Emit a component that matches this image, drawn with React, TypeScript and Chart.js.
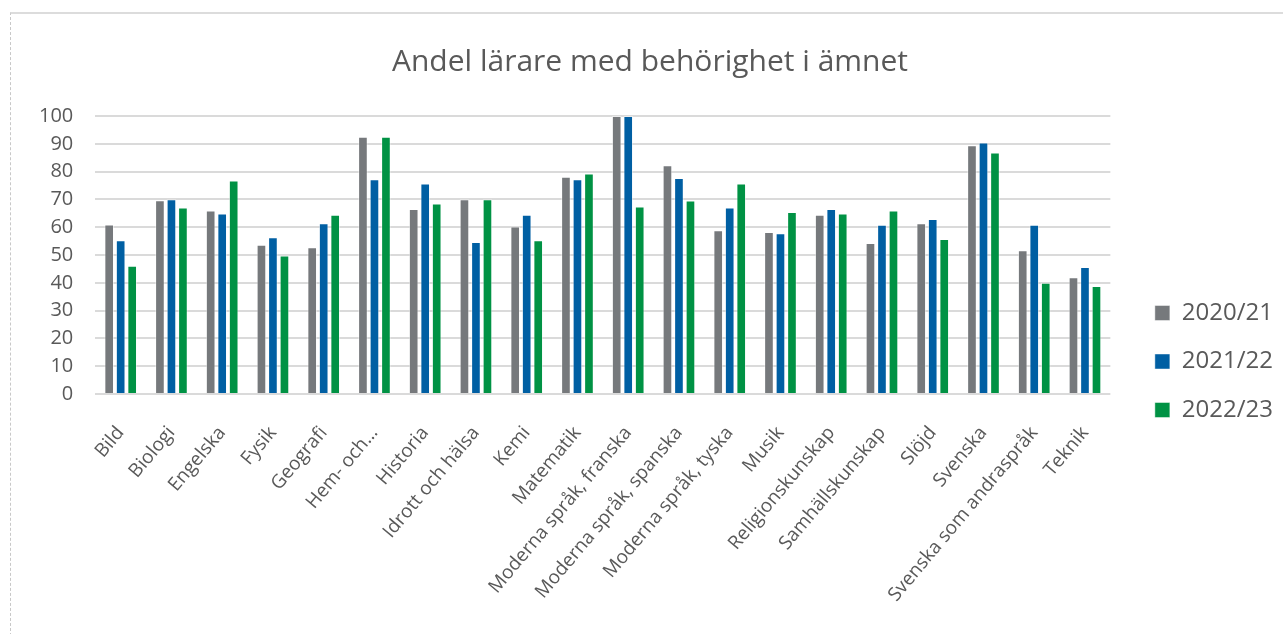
import React, { useEffect, useRef } from "react";
import { Chart, registerables } from "chart.js";

Chart.register(...registerables);

const categories = [
  "Bild", "Biologi", "Engelska", "Fysik", "Geografi", "Hem- och…", "Historia",
  "Idrott och hälsa", "Kemi", "Matematik", "Moderna språk, franska",
  "Moderna språk, spanska", "Moderna språk, tyska", "Musik", "Religionskunskap",
  "Samhällskunskap", "Slöjd", "Svenska", "Svenska som andraspråk", "Teknik",
];

const series2020 = [61, 69.7, 66, 53.7, 52.8, 92.5, 66.6, 70.1, 60.3, 78.2, 100, 82.3, 58.9, 58.3, 64.5, 54.3, 61.4, 89.5, 51.7, 42];
const series2021 = [55.3, 70.1, 64.9, 56.4, 61.4, 77.3, 75.7, 54.7, 64.5, 77.3, 100, 77.7, 67.1, 57.8, 66.6, 60.9, 63, 90.5, 60.9, 45.7];
const series2022 = [46.2, 67.1, 76.8, 49.8, 64.5, 92.5, 68.5, 70.1, 55.3, 79.3, 67.5, 69.6, 75.7, 65.5, 64.9, 66, 55.8, 86.9, 40, 38.9];

const seriesLabels = ["2020/21", "2021/22", "2022/23"];
const yTicks = [0, 10, 20, 30, 40, 50, 60, 70, 80, 90, 100];
const title = "Andel lärare med behörighet i ämnet";

export default function App() {
  const ref = useRef<HTMLCanvasElement>(null);
  useEffect(() => {
    if (!ref.current) return;
    const chart = new Chart(ref.current, {
      type: "bar",
      data: {
        labels: categories,
        datasets: [
          { label: seriesLabels[0], data: series2020, backgroundColor: "#76797c", borderColor: "rgba(255,255,255,0.45)", borderWidth: 1 },
          { label: seriesLabels[1], data: series2021, backgroundColor: "#005fa3", borderColor: "rgba(255,255,255,0.45)", borderWidth: 1 },
          { label: seriesLabels[2], data: series2022, backgroundColor: "#009244", borderColor: "rgba(255,255,255,0.45)", borderWidth: 1 },
        ],
      },
      options: {
        animation: false,
        responsive: false,
        maintainAspectRatio: false,
        datasets: { bar: { categoryPercentage: 0.68, barPercentage: 0.84 } },
        layout: { padding: { left: 6, right: 0, top: 0, bottom: 0 } },
        plugins: {
          title: {
            display: true,
            text: title,
            color: "#595959",
            font: { family: "'Open Sans', sans-serif", size: 30, weight: "normal" },
            padding: { top: 30, bottom: 36 },
          },
          legend: {
            position: "right",
            title: {
              display: true,
              text: " ",
              font: { size: 10 },
              padding: { top: 0, bottom: 63 },
            },
            labels: {
              color: "#595959",
              font: { family: "'Open Sans', sans-serif", size: 24 },
              boxWidth: 15,
              boxHeight: 15,
              padding: 24.5,
            },
          },
          tooltip: { enabled: false },
        },
        scales: {
          x: {
            grid: { display: false, drawTicks: false },
            border: { display: false },
            ticks: {
              color: "#595959",
              font: { family: "'Open Sans', sans-serif", size: 19 },
              minRotation: 50,
              maxRotation: 50,
              autoSkip: false,
              padding: 28,
            },
          },
          y: {
            min: 0,
            max: 100,
            afterBuildTicks: (axis: any) => {
              axis.ticks = yTicks.map((v) => ({ value: v }));
            },
            grid: { color: "#dadada", lineWidth: 2, drawTicks: false },
            border: { display: false },
            ticks: {
              color: "#595959",
              font: { family: "'Open Sans', sans-serif", size: 20 },
              padding: 22,
            },
          },
          spacer: {
            type: "linear",
            position: "right",
            grid: { display: false, drawTicks: false },
            border: { display: false },
            ticks: { display: false },
            afterFit: (axis: any) => {
              axis.width = 20;
            },
          },
        },
      },
    });
    return () => chart.destroy();
  }, []);

  return (
    <div
      style={{
        position: "absolute",
        left: 10,
        top: 12,
        width: 1273,
        height: 622,
        borderLeft: "1px dashed #c8c8c8",
        borderTop: "2px solid #dcdcdc",
        background: "#fff",
      }}
    >
      <canvas ref={ref} width={1272} height={620} style={{ display: "block" }} />
    </div>
  );
}
